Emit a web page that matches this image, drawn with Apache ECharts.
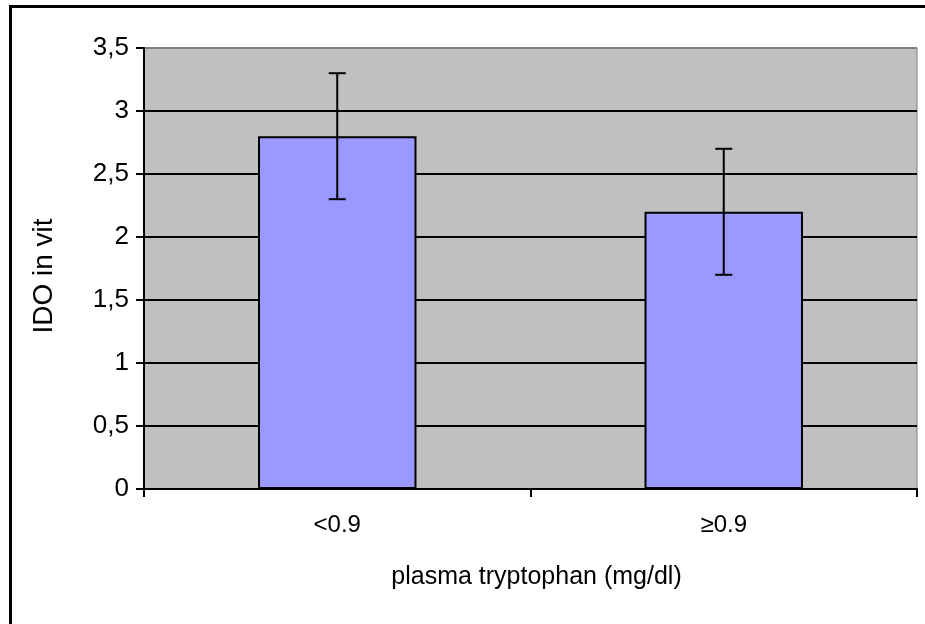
<!DOCTYPE html>
<html>
<head>
<meta charset="utf-8">
<script src="https://cdn.jsdelivr.net/npm/echarts@6/dist/echarts.min.js"></script>
<style>
html,body{margin:0;padding:0;background:#fff;}
#c{width:925px;height:624px;}
</style>
</head>
<body>
<div id="c"></div>
<script>
var categories = ['<0.9', '≥0.9'];
var values = [2.8, 2.2];
var errors = [0.5, 0.5];
var yTicks = { min: 0, max: 3.5, interval: 0.5 };
var xName = 'plasma tryptophan (mg/dl)';
var yName = 'IDO in vit';

var FONT = '"Liberation Sans", Arial, sans-serif';
var chart = echarts.init(document.getElementById('c'), null, { renderer: 'canvas' });

var errData = values.map(function (v, i) { return [i, v - errors[i], v + errors[i]]; });

var option = {
  animation: false,
  backgroundColor: '#fff',
  graphic: [{
    type: 'rect', left: 8, top: 4, z: 100,
    shape: { x: 0, y: 0, width: 1000, height: 1000 },
    style: { fill: 'none', stroke: '#000', lineWidth: 3 },
    silent: true
  }],
  grid: {
    left: 144, right: 8, top: 48, bottom: 135,
    show: true, backgroundColor: '#C0C0C0', borderColor: '#808080', borderWidth: 1
  },
  xAxis: {
    type: 'category',
    data: categories,
    axisLine: { lineStyle: { color: '#000', width: 2 } },
    axisTick: { show: true, length: 8, alignWithLabel: false, lineStyle: { color: '#000', width: 2 } },
    axisLabel: { color: '#000', fontSize: 24, fontFamily: FONT, margin: 24 },
    name: xName,
    nameLocation: 'middle',
    nameGap: 76,
    nameTextStyle: { color: '#000', fontSize: 25, fontFamily: FONT, padding: [0, 0, 0, 12] }
  },
  yAxis: {
    type: 'value',
    min: yTicks.min, max: yTicks.max, interval: yTicks.interval,
    axisLine: { show: true, lineStyle: { color: '#000', width: 2 } },
    axisTick: { show: true, length: 8, lineStyle: { color: '#000', width: 2 } },
    axisLabel: {
      color: '#000', fontSize: 26, fontFamily: FONT, margin: 15,
      formatter: function (v) { return String(v).replace('.', ','); }
    },
    splitLine: { show: true, lineStyle: { color: ['#000','#000','#000','#000','#000','#000','#000','#808080'], width: 2 } },
    name: yName,
    nameLocation: 'middle',
    nameGap: 86,
    nameTextStyle: { color: '#000', fontSize: 28, fontFamily: FONT, padding: [0, 15, 0, 0] }
  },
  series: [{
    type: 'bar',
    data: values,
    barWidth: '41%',
    itemStyle: { color: '#9999FF', borderColor: '#000', borderWidth: 2 },
    z: 3
  }, {
    type: 'custom',
    data: errData,
    z: 5,
    renderItem: function (params, api) {
      var x = api.value(0);
      var lo = api.coord([x, api.value(1)]);
      var hi = api.coord([x, api.value(2)]);
      var hw = 8.5;
      var st = { stroke: '#000', lineWidth: 2 };
      return {
        type: 'group',
        children: [
          { type: 'line', shape: { x1: lo[0], y1: lo[1], x2: hi[0], y2: hi[1] }, style: st },
          { type: 'line', shape: { x1: lo[0] - hw, y1: lo[1], x2: lo[0] + hw, y2: lo[1] }, style: st },
          { type: 'line', shape: { x1: hi[0] - hw, y1: hi[1], x2: hi[0] + hw, y2: hi[1] }, style: st }
        ]
      };
    }
  }]
};
chart.setOption(option);
</script>
</body>
</html>
